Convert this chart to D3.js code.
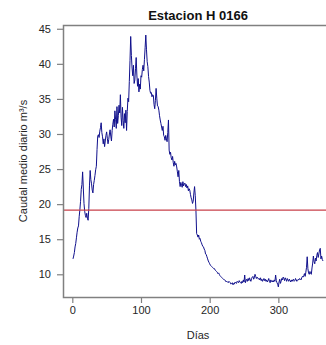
<!DOCTYPE html>
<html>
<head>
<meta charset="utf-8">
<script src="https://cdn.jsdelivr.net/npm/d3@7"></script>
<style>
  html, body { margin: 0; padding: 0; background: #ffffff; }
  svg { display: block; font-family: "Liberation Sans", Arial, sans-serif; }
</style>
</head>
<body>
<svg id="chart" width="326" height="345"></svg>
<script>
// Daily mean discharge (m³/s), station H 0166, days 1..365
const dailyFlow = [
  12.2, 12.6, 13.1, 13.9, 14.4, 15.2, 16.0, 16.6, 16.9, 18.2,
  19.2, 20.4, 22.1, 22.8, 24.6, 22.3, 20.1, 19.0, 18.4, 18.1,
  18.7, 18.0, 17.7, 19.4, 22.6, 24.8, 23.5, 22.9, 22.0, 21.6,
  22.8, 23.4, 24.1, 24.9, 25.4, 27.8, 29.7, 29.9, 29.5, 30.4,
  30.9, 31.6, 30.2, 29.6, 28.6, 29.3, 28.2, 29.0, 29.8, 30.3,
  29.4, 28.6, 29.2, 30.0, 30.6, 29.7, 29.0, 30.5, 31.4, 32.1,
  31.0, 33.3, 32.1, 30.8, 33.9, 31.5, 32.6, 34.1, 33.0, 35.6,
  32.4, 31.2, 33.8, 31.9, 30.8, 32.9, 31.6, 33.4, 30.5, 33.2,
  35.1, 34.6, 37.5, 40.5, 43.9, 41.2, 39.4, 38.3, 39.8, 37.2,
  37.7, 39.3, 40.9, 38.4, 36.8, 37.9, 36.0, 37.1, 36.4, 38.3,
  38.1, 39.2, 39.8, 39.0, 40.6, 42.3, 44.1, 42.0, 40.3, 39.6,
  38.2, 37.4, 36.2, 35.8, 35.9, 35.3, 35.6, 35.5, 34.2, 33.6,
  34.8, 36.5, 35.1, 34.0, 33.9, 33.4, 32.6, 32.0, 31.5, 31.0,
  30.5, 31.1, 29.8, 29.6, 29.1, 29.8, 29.3, 28.9, 30.2, 32.0,
  27.7, 27.1, 27.4, 26.6, 26.3, 26.8, 25.9, 25.4, 26.1, 25.6,
  25.8, 25.3, 24.6, 23.9, 24.8, 23.2, 22.5, 23.1, 22.7, 22.4,
  23.2, 22.6, 22.9, 23.0, 22.5, 22.8, 22.3, 22.6, 21.9, 22.2,
  22.0, 21.4, 20.9, 20.6, 20.1, 20.4, 21.6, 22.5, 21.2, 19.1,
  15.8, 15.6, 15.3, 15.6, 15.0, 15.1, 14.7, 14.5, 14.2, 14.0,
  13.9, 13.6, 13.4, 12.9, 12.8, 12.5, 12.2, 11.9, 11.7, 11.5,
  11.3, 11.2, 11.1, 11.0, 10.9, 10.8, 10.8, 10.6, 10.5, 10.4,
  10.3, 10.1, 10.2, 10.0, 9.8, 9.7, 9.6, 9.5, 9.4, 9.3,
  9.2, 9.2, 9.1, 8.9, 9.0, 8.9, 8.8, 9.0, 8.9, 8.8,
  8.6, 8.7, 8.8, 8.5, 8.7, 8.6, 8.9, 8.8, 8.7, 9.0,
  8.9, 8.8, 9.1, 8.9, 8.8, 8.7, 9.0, 8.8, 9.2, 8.9,
  9.9, 8.8, 9.1, 9.3, 9.0, 9.4, 9.1, 9.5, 9.2, 9.0,
  9.4, 9.6, 9.7, 9.3, 9.5, 10.0, 9.7, 9.4, 9.6, 9.5,
  9.3, 9.4, 9.2, 9.5, 9.1, 9.3, 9.0, 9.2, 9.4, 9.1,
  9.3, 9.0, 9.2, 8.9, 9.1, 9.4, 9.0, 8.8, 9.2, 9.0,
  8.9, 9.1, 8.9, 9.2, 9.0, 9.9, 9.1, 8.8, 8.6, 8.2,
  8.9, 9.3, 8.7, 9.0, 9.4, 9.2, 9.6, 9.4, 9.1, 9.5,
  9.3, 9.0, 9.4, 9.2, 9.0, 9.3, 9.1, 8.9, 9.2, 9.0,
  9.2, 9.3, 9.0, 9.1, 9.4, 9.2, 9.0, 9.1, 9.3, 9.2,
  9.4, 9.3, 9.2, 9.5, 9.7, 9.6, 9.8, 10.1, 9.7, 10.3,
  11.0, 12.5, 10.8, 10.2, 10.0, 10.4, 10.1, 10.0, 10.9, 11.6,
  12.6, 11.8, 11.5, 12.3, 11.9, 12.7, 13.1, 12.4, 12.9, 13.5,
  13.7, 12.2, 12.6, 12.1, 11.9
];
const days = dailyFlow.map((_, i) => i + 1);

// Horizontal reference level (m³/s)
const referenceFlow = 19.15;

const xTicks = [0, 100, 200, 300];
const yTicks = [10, 15, 20, 25, 30, 35, 40, 45];

const titleText = "Estacion H 0166";
const xLabel = "Días";
const yLabel = "Caudal medio diario m³/s";

// Plot region (right side runs past the window edge)
const plot = { left: 63, right: 333, top: 25, bottom: 297 };

// 4% padding on each side of the data range
function padded(ext) {
  const p = (ext[1] - ext[0]) * 0.04;
  return [ext[0] - p, ext[1] + p];
}

const x = d3.scaleLinear().domain(padded(d3.extent(days))).range([plot.left, plot.right]);
const y = d3.scaleLinear().domain(padded(d3.extent(dailyFlow))).range([plot.bottom, plot.top]);

const svg = d3.select("#chart");
const axisColor = "#808080";
const textColor = "#262626";

// Series
const line = d3.line()
  .x((d, i) => x(days[i]))
  .y(d => y(d));

svg.append("path")
  .datum(dailyFlow)
  .attr("fill", "none")
  .attr("stroke", "#10108c")
  .attr("stroke-width", 1)
  .attr("stroke-linejoin", "round")
  .attr("d", line);

// Reference level
svg.append("line")
  .attr("x1", plot.left).attr("x2", plot.right)
  .attr("y1", y(referenceFlow)).attr("y2", y(referenceFlow))
  .attr("stroke", "#c8404a")
  .attr("stroke-width", 1.1);

// Frame
svg.append("rect")
  .attr("x", plot.left + 0.5).attr("y", plot.top + 0.5)
  .attr("width", plot.right - plot.left).attr("height", plot.bottom - plot.top)
  .attr("fill", "none")
  .attr("stroke", axisColor)
  .attr("stroke-width", 1.5);

// Axes
const yAxis = d3.axisLeft(y).tickValues(yTicks).tickSize(6).tickPadding(6);
const yG = svg.append("g").attr("transform", `translate(${plot.left},0)`).call(yAxis);
const xAxis = d3.axisBottom(x).tickValues(xTicks).tickSize(6).tickPadding(6);
const xG = svg.append("g").attr("transform", `translate(0,${plot.bottom})`).call(xAxis);

[yG, xG].forEach(g => {
  g.select(".domain").remove();
  g.selectAll(".tick line").attr("stroke", axisColor).attr("stroke-width", 1.2);
  g.selectAll(".tick text")
    .attr("fill", textColor)
    .style("font-family", "'Liberation Sans', Arial, sans-serif")
    .style("font-size", "11px");
});
yG.selectAll(".tick text").attr("x", -12);
xG.selectAll(".tick text").attr("y", 9);

// Title
svg.append("text")
  .attr("x", (plot.left + plot.right) / 2)
  .attr("y", 19.5)
  .attr("text-anchor", "middle")
  .attr("fill", "#111")
  .style("font-size", "13px")
  .style("font-weight", "bold")
  .text(titleText);

// Axis titles
svg.append("text")
  .attr("x", (plot.left + plot.right) / 2)
  .attr("y", 339)
  .attr("text-anchor", "middle")
  .attr("fill", textColor)
  .style("font-size", "11px")
  .text(xLabel);

svg.append("text")
  .attr("transform", `translate(27,${(plot.top + plot.bottom) / 2}) rotate(-90)`)
  .attr("text-anchor", "middle")
  .attr("fill", textColor)
  .style("font-size", "11px")
  .text(yLabel);
</script>
</body>
</html>
